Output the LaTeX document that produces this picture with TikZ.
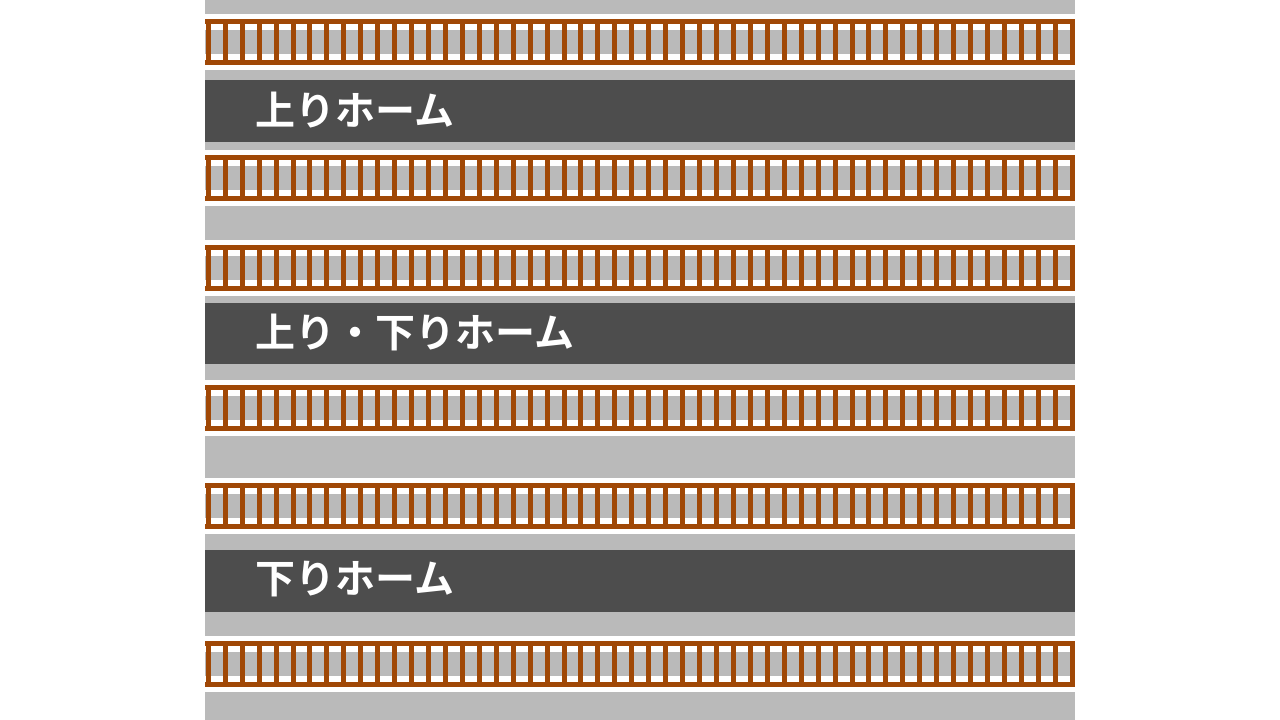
\documentclass[tikz,border=0pt]{standalone}
\usepackage{fontspec}
\newfontfamily\jpfont{Noto Sans CJK JP}[BoldFont={Noto Sans CJK JP Bold}]
\definecolor{ballast}{HTML}{BABABA}
\definecolor{platformgray}{HTML}{4D4D4D}
\definecolor{railbrown}{HTML}{A04806}
\tikzset{
  ballastfill/.style={fill=ballast,draw=none},
  whitefill/.style={fill=white,draw=none},
  brownfill/.style={fill=railbrown,draw=none},
  platformfill/.style={fill=platformgray,draw=none},
  platformlabel/.style={anchor=west,inner sep=0pt,text=white,
    font=\jpfont\bfseries\fontsize{40}{42}\selectfont}
}
\newcommand{\railtrack}[1]{%
  \fill[whitefill] (205,#1-5) rectangle (1075,#1+51);
  \fill[ballastfill] (205,#1+11) rectangle (1075,#1+35);
  \fill[brownfill] (205,#1) rectangle (1075,#1+5);
  \fill[brownfill] (205,#1+41) rectangle (1075,#1+46);
  \foreach \i in {0,...,51}{
    \fill[brownfill] (205.8+\i*16.94,#1+4) rectangle ++(5,38);
  }%
}
\begin{document}
\begin{tikzpicture}[x=1pt,y=-1pt]
\useasboundingbox (0,0) rectangle (1280,720);
\fill[white] (0,0) rectangle (1280,720);
% ballast column
\fill[ballastfill] (205,0) rectangle (1075,720);
% tracks
\railtrack{19}
\railtrack{155}
\railtrack{245}
\railtrack{385}
\railtrack{483}
\railtrack{641}
% platforms
\fill[platformfill] (205,80) rectangle (1075,142);
\fill[platformfill] (205,303) rectangle (1075,364);
\fill[platformfill] (205,550) rectangle (1075,612);
\node[platformlabel] (up) at (255,110) {上りホーム};
\node[platformlabel] (both) at (255,332) {上り・下りホーム};
\node[platformlabel] (down) at (255,579) {下りホーム};
\end{tikzpicture}
\end{document}
